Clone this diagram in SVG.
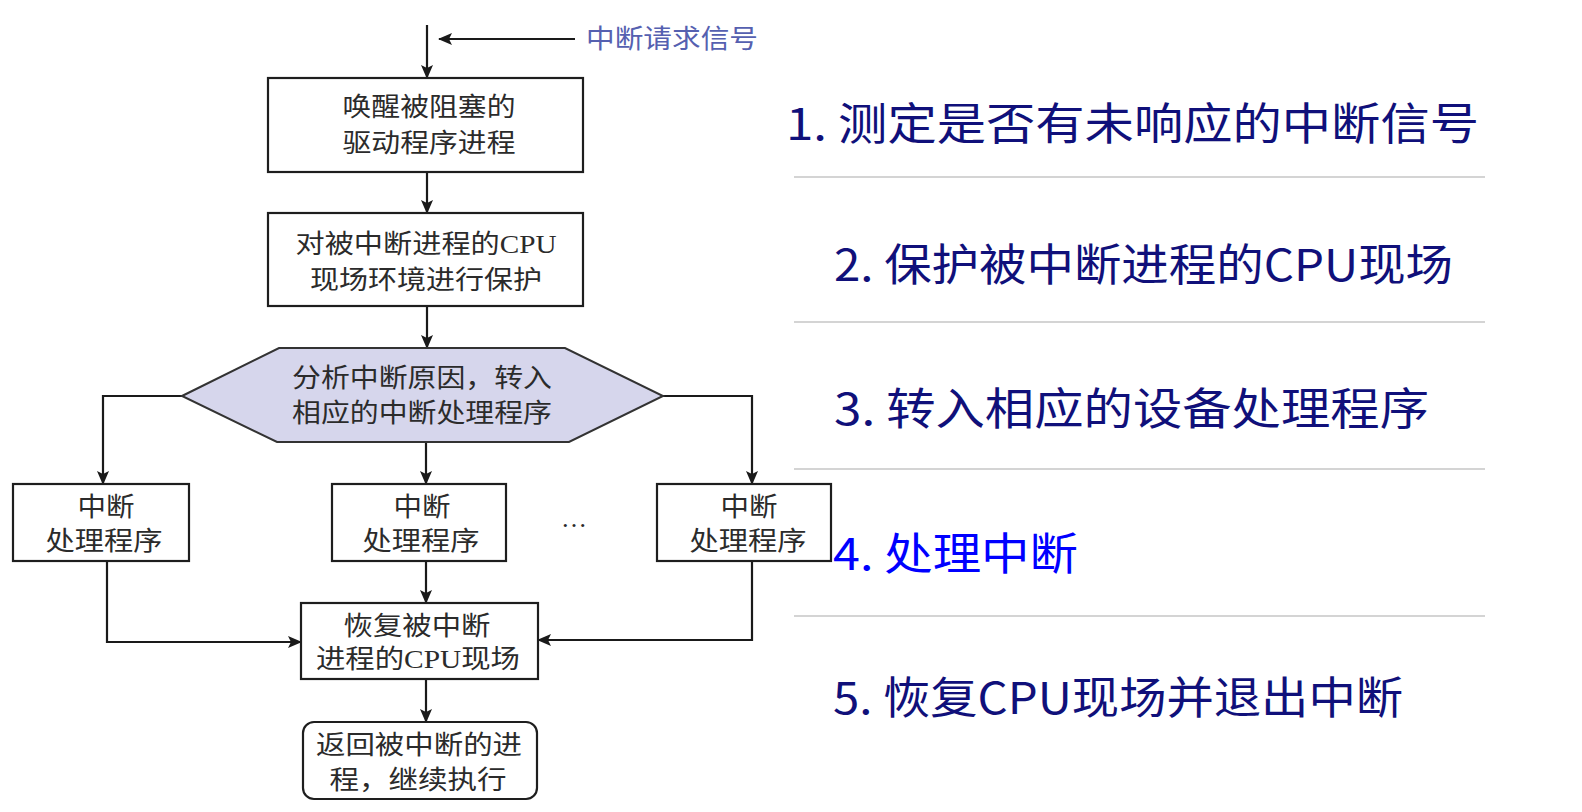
<svg xmlns="http://www.w3.org/2000/svg" width="1582" height="812" viewBox="0 0 1582 812">
<defs>
<marker id="ah" markerUnits="userSpaceOnUse" markerWidth="14" markerHeight="12" refX="13" refY="6" orient="auto">
<path d="M0,0 L14,6 L0,12 L3,6 Z" fill="#1a1a1a"/>
</marker>
<style>
.box{fill:#fff;stroke:#1e1e1e;stroke-width:2.2}
.hex{fill:#d6d6ec;stroke:#333;stroke-width:2}
.t{font-family:"Liberation Serif","Noto Sans CJK SC",serif;font-size:26px;fill:#2b2b2b;text-anchor:middle;dominant-baseline:central}
.c{fill:none;stroke:#1a1a1a;stroke-width:2.2;marker-end:url(#ah)}
.r{font-family:"Noto Sans CJK SC","Liberation Sans",sans-serif;font-size:44px;fill:#10107a;dominant-baseline:central}
.sep{stroke:#c6c6c6;stroke-width:1.5}
</style>
</defs>
<rect width="1582" height="812" fill="#fff"/>

<g id="connectors">
<line class="c" x1="427" y1="25" x2="427" y2="78"/>
<line class="c" x1="575" y1="39" x2="439" y2="39"/>
<line class="c" x1="427" y1="172" x2="427" y2="213"/>
<line class="c" x1="427" y1="306" x2="427" y2="348"/>
<polyline class="c" points="182,396 103,396 103,484"/>
<polyline class="c" points="663,396 752,396 752,484"/>
<line class="c" x1="426" y1="442" x2="426" y2="484"/>
<polyline class="c" points="107,561 107,642 301,642"/>
<polyline class="c" points="752,561 752,640 538,640"/>
<line class="c" x1="426" y1="561" x2="426" y2="603"/>
<line class="c" x1="426" y1="679" x2="426" y2="722"/>
</g>

<g id="signal">
<text class="t" x="672" y="39" textLength="172" lengthAdjust="spacingAndGlyphs" style="fill:#5560b0">中断请求信号</text>
</g>

<g id="n1">
<rect class="box" x="268" y="78" width="315" height="94"/>
<text class="t" x="429" y="107" textLength="173" lengthAdjust="spacingAndGlyphs">唤醒被阻塞的</text>
<text class="t" x="429" y="143" textLength="173" lengthAdjust="spacingAndGlyphs">驱动程序进程</text>
</g>

<g id="n2">
<rect class="box" x="268" y="213" width="315" height="93"/>
<text class="t" x="426" y="244" textLength="261" lengthAdjust="spacingAndGlyphs">对被中断进程的CPU</text>
<text class="t" x="426" y="280" textLength="232" lengthAdjust="spacingAndGlyphs">现场环境进行保护</text>
</g>

<g id="n3">
<polygon class="hex" points="182,396 279,348 565,348 663,396 569,442 277,442"/>
<text class="t" x="422" y="378" textLength="260" lengthAdjust="spacingAndGlyphs">分析中断原因，转入</text>
<text class="t" x="422" y="413" textLength="260" lengthAdjust="spacingAndGlyphs">相应的中断处理程序</text>
</g>

<g id="h1">
<rect class="box" x="13" y="484" width="176" height="77"/>
<text class="t" x="106" y="507" textLength="57" lengthAdjust="spacingAndGlyphs">中断</text>
<text class="t" x="104" y="541" textLength="117" lengthAdjust="spacingAndGlyphs">处理程序</text>
</g>

<g id="h2">
<rect class="box" x="332" y="484" width="174" height="77"/>
<text class="t" x="422" y="507" textLength="57" lengthAdjust="spacingAndGlyphs">中断</text>
<text class="t" x="421" y="541" textLength="117" lengthAdjust="spacingAndGlyphs">处理程序</text>
</g>

<g id="dots">
<text class="t" x="574" y="518">…</text>
</g>

<g id="h3">
<rect class="box" x="657" y="484" width="174" height="77"/>
<text class="t" x="749" y="507" textLength="57" lengthAdjust="spacingAndGlyphs">中断</text>
<text class="t" x="748" y="541" textLength="117" lengthAdjust="spacingAndGlyphs">处理程序</text>
</g>

<g id="n5">
<rect class="box" x="301" y="603" width="237" height="76"/>
<text class="t" x="417" y="626" textLength="147" lengthAdjust="spacingAndGlyphs">恢复被中断</text>
<text class="t" x="418" y="659" textLength="204" lengthAdjust="spacingAndGlyphs">进程的CPU现场</text>
</g>

<g id="n6">
<rect class="box" x="303" y="722" width="234" height="77" rx="11" ry="11"/>
<text class="t" x="419" y="745" textLength="206" lengthAdjust="spacingAndGlyphs">返回被中断的进</text>
<text class="t" x="418" y="780" textLength="177" lengthAdjust="spacingAndGlyphs">程，继续执行</text>
</g>

<g id="steps">
<text class="r" x="786" y="121" textLength="693" lengthAdjust="spacingAndGlyphs">1. 测定是否有未响应的中断信号</text>
<line class="sep" x1="794" y1="177" x2="1485" y2="177"/>
<text class="r" x="834" y="262" textLength="619" lengthAdjust="spacingAndGlyphs">2. 保护被中断进程的CPU现场</text>
<line class="sep" x1="794" y1="322" x2="1485" y2="322"/>
<text class="r" x="834" y="406" textLength="595" lengthAdjust="spacingAndGlyphs">3. 转入相应的设备处理程序</text>
<line class="sep" x1="794" y1="469" x2="1485" y2="469"/>
<text class="r" x="833" y="551" textLength="245" lengthAdjust="spacingAndGlyphs" style="fill:#0000ff">4. 处理中断</text>
<line class="sep" x1="794" y1="616" x2="1485" y2="616"/>
<text class="r" x="833" y="695" textLength="570" lengthAdjust="spacingAndGlyphs">5. 恢复CPU现场并退出中断</text>
</g>
</svg>
